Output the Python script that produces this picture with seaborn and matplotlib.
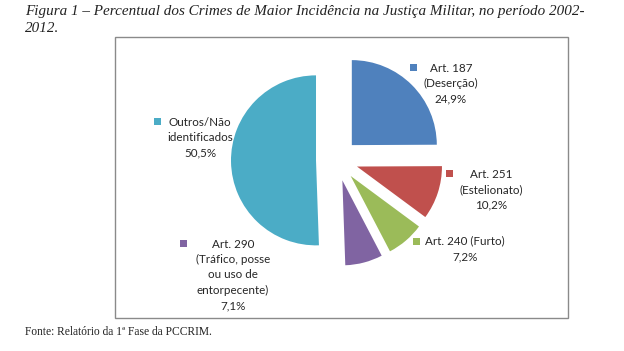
import matplotlib
matplotlib.use("Agg")
import matplotlib.pyplot as plt
import seaborn as sns
from matplotlib.patches import Rectangle

# data
labels = ["Art. 187\n(Deserção)", "Art. 251\n(Estelionato)", "Art. 240 (Furto)",
          "Art. 290\n(Tráfico, posse\nou uso de\nentorpecente)", "Outros/Não\nidentificados"]
values = [24.9, 10.2, 7.2, 7.1, 50.5]
pct_text = ["24,9%", "10,2%", "7,2%", "7,1%", "50,5%"]
colors = ["#4F81BD", "#C0504D", "#9BBB59", "#8064A2", "#4BACC6"]

sns.set_theme(style="white")
plt.rcParams["font.family"] = ["Lato", "DejaVu Sans"]

W, H = 624, 351
fig = plt.figure(figsize=(W / 100, H / 100), dpi=100)
ax = fig.add_axes([0, 0, 1, 1])

def py(y):
    return H - y

# chart frame
ax.add_patch(Rectangle((115, py(318)), 453, 318 - 37, fill=False,
                       edgecolor="#8a8a8a", linewidth=1.0))

ax.pie(values, colors=colors, startangle=90, counterclock=False,
       center=(337, py(160)), radius=85, explode=[21] * 5,
       wedgeprops=dict(linewidth=0), frame=True)
ax.set_xlim(0, W)
ax.set_ylim(0, H)
ax.set_axis_off()

# label positions (text centre x, first-line y, marker x, marker y)
label_pos = [(451, 68, 413, 67), (491, 174, 449, 173), (465, 241, 416, 241),
             (233, 244, 183, 243), (200, 122, 157, 121)]
fs = 8.4
lh = 15.5
for lab, pct, col, (tx, ty, mx, my) in zip(labels, pct_text, colors, label_pos):
    lines = lab.split("\n") + [pct]
    for i, line in enumerate(lines):
        ax.text(tx, py(ty + i * lh), line, ha="center", va="center",
                fontsize=fs, color="#262626")
    ax.add_patch(Rectangle((mx - 3.5, py(my) - 3.5), 7, 7, color=col, linewidth=0))

serif = ["Liberation Serif", "DejaVu Serif"]
fig.text(25 / W, 1 - 12 / H,
         "Figura 1 – Percentual dos Crimes de Maior Incidência na Justiça Militar, no período 2002-",
         ha="left", va="center", fontsize=10.9, style="italic", family=serif, color="#222222")
fig.text(25 / W, 1 - 29 / H, "2012.", ha="left", va="center", fontsize=10.9,
         style="italic", family=serif, color="#222222")
fig.text(25 / W, 1 - 332 / H, "Fonte: Relatório da 1ª Fase da PCCRIM.", ha="left",
         va="center", fontsize=8.3, family=serif, color="#222222")

fig.savefig("out.png", dpi=100)
